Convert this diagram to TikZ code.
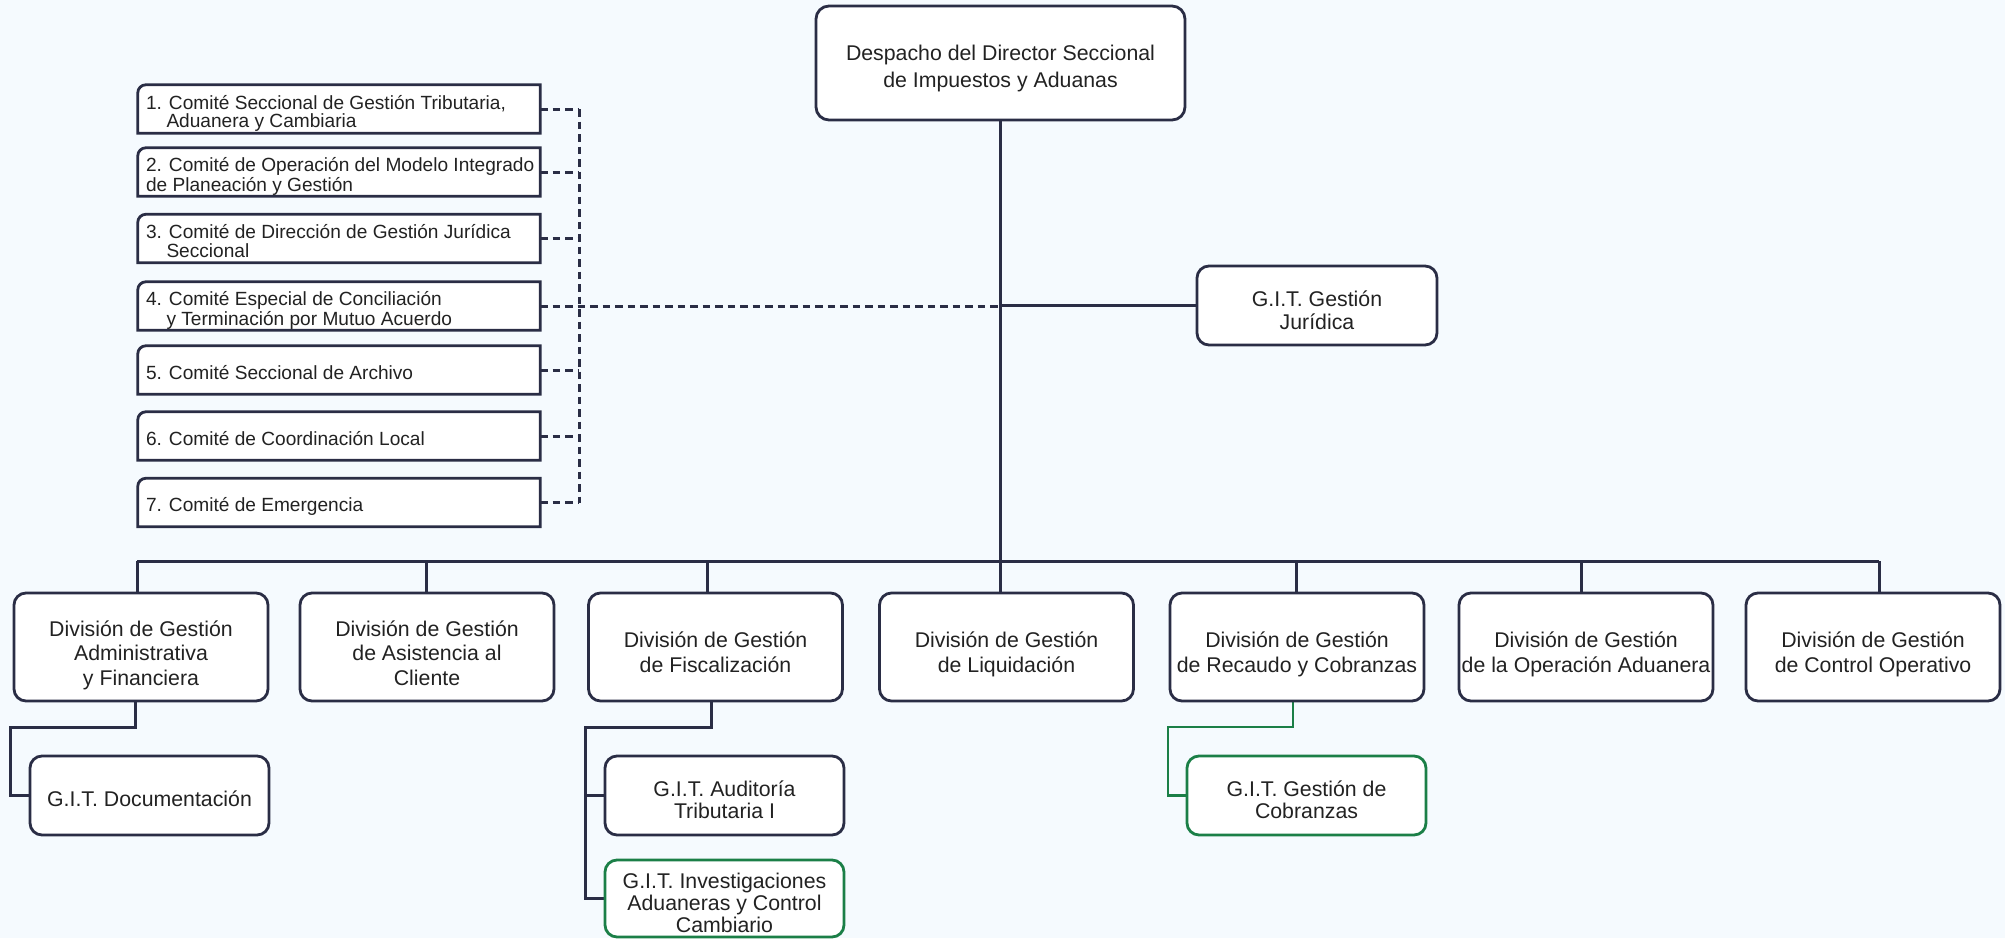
\documentclass[tikz,border=0pt]{standalone}
\usepackage{fontspec}
\setmainfont{Liberation Sans}
\usetikzlibrary{calc,backgrounds}
\definecolor{bg}{HTML}{F5FAFE}
\definecolor{navy}{HTML}{2A2D45}
\definecolor{grn}{HTML}{1B7F47}
\definecolor{txt}{HTML}{222222}
\newcommand{\comline}[1]{\raisebox{-5pt}[\height][\depth]{\makebox[386pt][l]{\begin{tabular}{@{}l@{}}#1\end{tabular}}}}
\newcommand{\btext}[2][7.5pt]{\raisebox{-#1}[\height][\depth]{\begin{tabular}{@{}c@{}}#2\end{tabular}}}
\begin{document}
\begin{tikzpicture}[x=1pt,y=-1pt,
  box/.style={draw=navy, line width=2.8pt, fill=white, rounded corners=12pt,
    text=txt, inner sep=0pt, minimum width=254pt, minimum height=108pt,
    font=\fontsize{21.3}{24.5}\selectfont},
  gitbox/.style={box, minimum width=239pt, minimum height=79pt, font=\fontsize{21.3}{22}\selectfont},
  greenbox/.style={gitbox, draw=grn},
  cbox/.style={draw=none, text=txt, inner xsep=8pt, inner ysep=0pt, minimum height=48pt,
    font=\fontsize{19.1}{17}\selectfont},
  coutline/.style={draw=navy, line width=2.8pt, fill=white},
  conn/.style={draw=navy, line width=3pt},
  dconn/.style={draw=navy, line width=3pt, dash pattern=on 7.5pt off 5pt},
  gconn/.style={draw=grn, line width=2.3pt}
]
\useasboundingbox (0,0) rectangle (2005,938);

% top
\node[box, minimum width=369pt, minimum height=114pt, rounded corners=13pt,
  font=\fontsize{21.3}{27}\selectfont] (top) at (1000.5,63)
  {\btext[5.5pt]{Despacho del Director Seccional\\de Impuestos y Aduanas}};
\node[box, minimum width=240pt, minimum height=79pt, font=\fontsize{21.3}{23}\selectfont]
  (jur) at (1317,305.5) {\btext{G.I.T. Gestión\\Jurídica}};

% committees
\node[cbox] (c1) at (339,109) {\comline{1. Comité Seccional de Gestión Tributaria,\\\hspace*{20.5pt}Aduanera y Cambiaria}};
\node[cbox] (c2) at (339,172) {\comline{2. Comité de Operación del Modelo Integrado\\de Planeación y Gestión}};
\node[cbox] (c3) at (339,238.5) {\comline{3. Comité de Dirección de Gestión Jurídica\\\hspace*{20.5pt}Seccional}};
\node[cbox] (c4) at (339,306) {\comline{4. Comité Especial de Conciliación\\\hspace*{20.5pt}y Terminación por Mutuo Acuerdo}};
\node[cbox] (c5) at (339,370) {\comline{5. Comité Seccional de Archivo}};
\node[cbox] (c6) at (339,436) {\comline{6. Comité de Coordinación Local}};
\node[cbox] (c7) at (339,502.5) {\comline{7. Comité de Emergencia}};

% divisions
\node[box] (d1) at (141,647) {\btext[9pt]{División de Gestión\\Administrativa\\y Financiera}};
\node[box] (d2) at (427,647) {\btext[9pt]{División de Gestión\\de Asistencia al\\Cliente}};
\node[box] (d3) at (715.5,647) {\btext[8pt]{División de Gestión\\de Fiscalización}};
\node[box] (d4) at (1006.5,647) {\btext[8pt]{División de Gestión\\de Liquidación}};
\node[box] (d5) at (1297,647) {\btext[8pt]{División de Gestión\\de Recaudo y Cobranzas}};
\node[box] (d6) at (1586,647) {\btext[8pt]{División de Gestión\\de la Operación Aduanera}};
\node[box] (d7) at (1873,647) {\btext[8pt]{División de Gestión\\de Control Operativo}};

% GIT children
\node[gitbox] (doc) at (149.5,795.5) {\btext[6.5pt]{G.I.T. Documentación}};
\node[gitbox] (aud) at (724.5,795.5) {\btext{G.I.T. Auditoría\\Tributaria I}};
\node[greenbox, minimum height=77pt] (inv) at (724.5,898.5) {\btext{G.I.T. Investigaciones\\Aduaneras y Control\\Cambiario}};
\node[greenbox] (cob) at (1306.5,795.5) {\btext{G.I.T. Gestión de\\Cobranzas}};

% bus coordinates
\coordinate (b1) at (137,561);
\coordinate (b2) at (426,561);
\coordinate (b3) at (707,561);
\coordinate (b5) at (1296,561);
\coordinate (b6) at (1581,561);
\coordinate (b7) at (1879,561);
\coordinate (e1) at (10,727);
\coordinate (e3) at (585.5,727);
\coordinate (e5) at (1168,727);
\coordinate (dv) at (579,0);

\begin{pgfonlayer}{background}
  \fill[bg] (0,0) rectangle (2005,938);
  \foreach \c in {c1,c2,c3,c4,c5,c6,c7}{
    \draw[coutline] (\c.south west) -- ([yshift=-8pt]\c.north west) arc(180:90:8pt)
      -- (\c.north east) -- (\c.south east) -- cycle;
  }
  \draw[conn] (top.south) -- (top.south |- d4.north);
  \draw[conn] (b1) -- (b7);
  \foreach \b/\d in {b1/d1,b2/d2,b3/d3,b5/d5,b6/d6,b7/d7}{
    \draw[conn] (\b) -- (\b |- \d.north);
  }
  \draw[conn] (top.south |- jur.west) -- (jur.west);
  \draw[dconn] (dv |- c1.east) -- (dv |- c7.east);
  \foreach \c in {c1,c2,c3,c5,c6,c7}{
    \draw[dconn] (\c.east) -- (dv |- \c.east);
  }
  \draw[dconn] (c4.east) -- (top.south |- c4.east);
  \draw[conn] ([xshift=-6pt]d1.south) |- (e1) |- (doc.west);
  \draw[conn] ([xshift=-4.5pt]d3.south) |- (e3) |- (inv.west);
  \draw[conn] (e3 |- aud.west) -- (aud.west);
  \draw[gconn] ([xshift=-4pt]d5.south) |- (e5) |- (cob.west);
\end{pgfonlayer}
\end{tikzpicture}
\end{document}
